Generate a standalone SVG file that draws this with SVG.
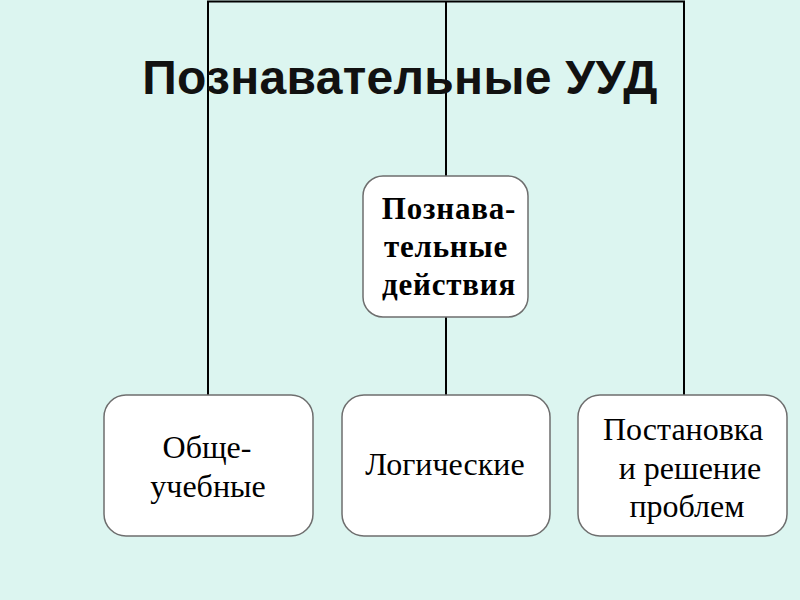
<svg xmlns="http://www.w3.org/2000/svg" width="800" height="600" viewBox="0 0 800 600">
<style>
.box{fill:#ffffff;stroke:#6e6e6e;stroke-width:1.5}
.ln{fill:none;stroke:#000000;stroke-width:2}
.t{font-family:"Liberation Serif","Times New Roman",serif;font-size:32px;fill:#000000;text-anchor:middle}
.b{font-weight:bold;font-size:31px;letter-spacing:0.8px}
.title{font-family:"Liberation Sans",Arial,sans-serif;font-size:48px;font-weight:bold;fill:#111111;text-anchor:middle;letter-spacing:0.3px}
</style>
<rect x="0" y="0" width="800" height="600" fill="#dcf5f0"/>
<g id="connectors">
<path class="ln" d="M208,395 V1.5 H684 V395"/>
<path class="ln" d="M446,1.5 V176"/>
<path class="ln" d="M446,317 V395"/>
</g>
<text class="title" x="400" y="94">Познавательные УУД</text>
<g id="node-center">
<rect class="box" x="363" y="176" width="165" height="141" rx="20"/>
<text class="t b" x="449" y="219">Познава-</text>
<text class="t b" x="446" y="257">тельные</text>
<text class="t b" x="449" y="295">действия</text>
</g>
<g id="node-left">
<rect class="box" x="104" y="395" width="209" height="141" rx="22"/>
<text class="t" x="207" y="458">Обще-</text>
<text class="t" x="208" y="497">учебные</text>
</g>
<g id="node-middle">
<rect class="box" x="342" y="395" width="208" height="141" rx="22"/>
<text class="t" x="445" y="475">Логические</text>
</g>
<g id="node-right">
<rect class="box" x="578" y="395" width="209" height="141" rx="22"/>
<text class="t" x="683" y="440">Постановка</text>
<text class="t" x="690" y="479">и решение</text>
<text class="t" x="687" y="517">проблем</text>
</g>
</svg>
